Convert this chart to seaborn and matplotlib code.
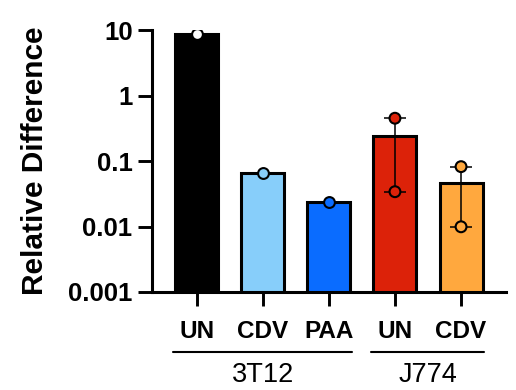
import numpy as np
import pandas as pd
import matplotlib
matplotlib.use("Agg")
import matplotlib.pyplot as plt
import matplotlib.transforms as mtransforms
import seaborn as sns

# ---- data ----
conditions = ["3T12 UN", "3T12 CDV", "3T12 PAA", "J774 UN", "J774 CDV"]
tick_labels = ["UN", "CDV", "PAA", "UN", "CDV"]
groups = ["3T12", "J774"]
group_members = [[0, 1, 2], [3, 4]]
values_3t12_un = [8.7]
values_3t12_cdv = [0.066]
values_3t12_paa = [0.024]
values_j774_un = [0.45, 0.034]
values_j774_cdv = [0.082, 0.0099]
bar_colors = ["#000000", "#87CEFA", "#0A6CFF", "#DC2209", "#FFA83E"]
point_colors = ["#FFFFFF", "#87CEFA", "#0A6CFF", "#DC2209", "#FFA83E"]
yticks = [0.001, 0.01, 0.1, 1, 10]
ytick_labels = ["0.001", "0.01", "0.1", "1", "10"]

all_values = [values_3t12_un, values_3t12_cdv, values_3t12_paa,
              values_j774_un, values_j774_cdv]
df = pd.DataFrame({
    "cond": [c for c, vals in zip(conditions, all_values) for _ in vals],
    "value": [v for vals in all_values for v in vals],
})

sns.set_style("ticks")
plt.rcParams["font.family"] = ["Liberation Sans", "DejaVu Sans"]
plt.rcParams["text.color"] = "black"
plt.rcParams["axes.labelcolor"] = "black"
plt.rcParams["xtick.color"] = "black"
plt.rcParams["ytick.color"] = "black"

fig = plt.figure(figsize=(5.16, 3.9), dpi=100)
ax = fig.add_axes([0.2946, 0.2513, 0.686, 0.6717])

sns.barplot(data=df, x="cond", y="value", hue="cond", order=conditions,
            hue_order=conditions, palette=bar_colors, errorbar=None,
            saturation=1, width=0.65, edgecolor="black", linewidth=2.2,
            legend=False, ax=ax, zorder=2)

ax.set_yscale("log")

# range error bars for groups with more than one point
stats = df.groupby("cond")["value"].agg(["mean", "min", "max", "count"])
for i, c in enumerate(conditions):
    s = stats.loc[c]
    if s["count"] > 1:
        ax.errorbar([i], [s["mean"]],
                    yerr=[[s["mean"] - s["min"]], [s["max"] - s["mean"]]],
                    fmt="none", ecolor="black", elinewidth=1.1,
                    capsize=8, capthick=1.1, zorder=3)

sns.stripplot(data=df, x="cond", y="value", hue="cond", order=conditions,
              hue_order=conditions, palette=point_colors, jitter=False,
              size=7.8, linewidth=1.5, edgecolor="black", legend=False,
              ax=ax, zorder=4)

ax.set_ylim(0.001, 10)
ax.set_xlim(-0.676, 4.68)

ax.set_yticks(yticks)
ax.set_yticklabels(ytick_labels)
ax.yaxis.set_minor_locator(matplotlib.ticker.NullLocator())
ax.set_xticks(range(len(conditions)))
ax.set_xticklabels(tick_labels)

for lab in ax.get_yticklabels():
    lab.set_fontweight("bold")
    lab.set_fontsize(18.5)
for lab in ax.get_xticklabels():
    lab.set_fontweight("bold")
    lab.set_fontsize(17.5)

ax.tick_params(axis="both", length=10, width=2.1, color="black")
ax.tick_params(axis="y", pad=4)
ax.tick_params(axis="x", pad=10)

for side in ["top", "right"]:
    ax.spines[side].set_visible(False)
for side in ["left", "bottom"]:
    ax.spines[side].set_linewidth(2.2)
    ax.spines[side].set_color("black")

ax.set_xlabel("")
ax.set_ylabel("Relative Difference", fontsize=21.5, fontweight="bold", labelpad=14)

trans = mtransforms.blended_transform_factory(ax.transData, ax.transAxes)
for g, members in zip(groups, group_members):
    x0, x1 = members[0] - 0.36, members[-1] + 0.35
    ax.plot([x0, x1], [-0.229, -0.229], color="black", lw=1.5,
            transform=trans, clip_on=False)
    ax.text((members[0] + members[-1]) / 2, -0.318, g, transform=trans,
            ha="center", va="center", fontsize=19.5)

fig.savefig("out.png", dpi=100)
